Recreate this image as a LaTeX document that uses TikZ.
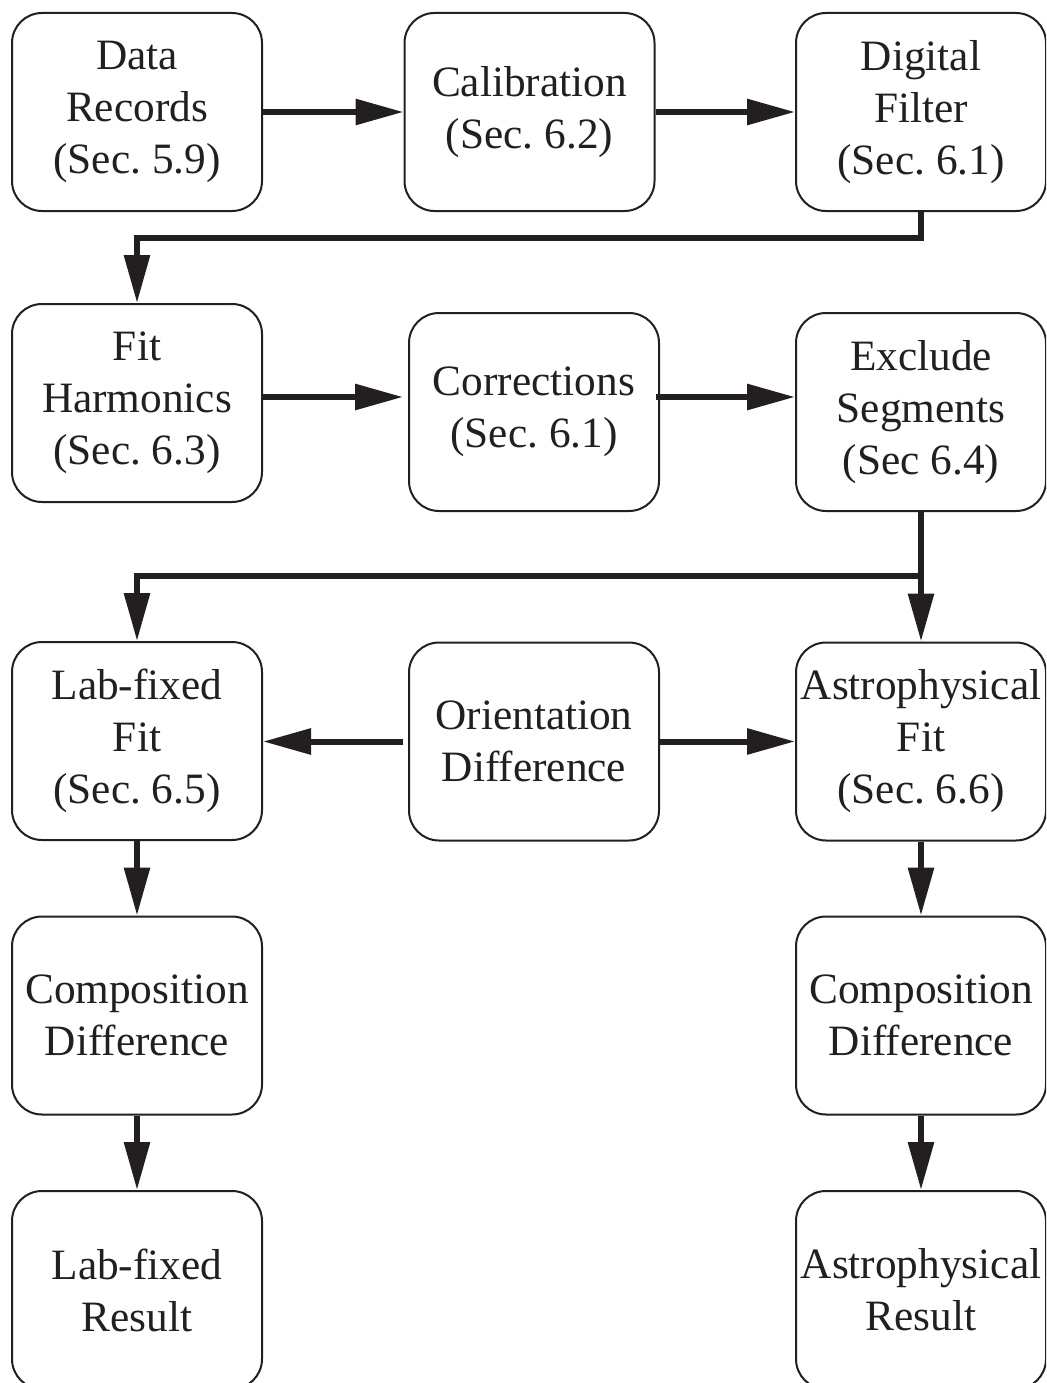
\documentclass[tikz,border=0pt]{standalone}
\usepackage{fontspec}
\setmainfont{Liberation Serif}
\usetikzlibrary{arrows.meta}
\definecolor{ink}{HTML}{231F20}
\frenchspacing
\begin{document}
\begin{tikzpicture}[x=1pt,y=-1pt,
  box/.style={draw=ink, line width=2pt, rounded corners=30pt, fill=white,
    minimum width=250pt, minimum height=198pt, inner sep=0pt,
    align=center, text=ink, font=\fontsize{43.3pt}{52pt}\selectfont\frenchspacing},
  flow/.style={draw=ink, line width=6pt, -{Triangle[length=48pt,width=25pt]}}]
\useasboundingbox (0,0) rectangle (1046,1383);
\clip (0,0) rectangle (1046,1383);
\fill[white] (0,0) rectangle (1046,1383);

% first row
\node[box] (DR)   at (137,112)   {Data\\Records\\(Sec. 5.9)};
\node[box] (Cal)  at (529.5,112) {Calibration\\(Sec. 6.2)};
\node[box] (DF)   at (921,112)   {Digital\\Filter\\(Sec. 6.1)};

% second row
\node[box] (FH)   at (137,403)   {Fit\\Harmonics\\(Sec. 6.3)};
\node[box] (Corr) at (534,412)   {Corrections\\(Sec. 6.1)};
\node[box] (ES)   at (921,412)   {Exclude\\Segments\\(Sec 6.4)};

% fits
\node[box] (LF)   at (137,741)   {Lab-fixed\\Fit\\(Sec. 6.5)};
\node[box] (OD)   at (534,741.5) {Orientation\\Difference};
\node[box] (AF)   at (921,741.5) {Astrophysical\\Fit\\(Sec. 6.6)};

% composition and results
\node[box] (CDL)  at (137,1015.5) {Composition\\Difference};
\node[box] (CDR)  at (921,1015.5) {Composition\\Difference};
\node[box] (LR)   at (137,1290)   {Lab-fixed\\Result};
\node[box] (AR)   at (921,1290)   {Astrophysical\\Result};

% routing levels
\coordinate (j1) at (529,238);
\coordinate (r2) at (529,397);
\coordinate (j2) at (529,576);

\draw[flow] (DR.east) -- (Cal.west);
\draw[flow] (Cal.east) -- (DF.west);
\draw[flow] (DF.south) -- (DF.south |- j1) -| (FH.north);
\draw[flow, shorten >=5pt] (FH.east |- r2) -- (Corr.west |- r2);
\draw[flow] ([xshift=-4pt]Corr.east |- r2) -- (ES.west |- r2);
\draw[flow] (ES.south) -- (AF.north);
\draw[flow] (ES.south |- j2) -| (LF.north);
\draw[flow, shorten <=5pt] (OD.west) -- (LF.east |- OD.west);
\draw[flow] (OD.east) -- (AF.west);
\draw[flow] (LF.south) -- (CDL.north);
\draw[flow] (AF.south) -- (CDR.north);
\draw[flow] (CDL.south) -- (LR.north);
\draw[flow] (CDR.south) -- (AR.north);
\end{tikzpicture}
\end{document}
